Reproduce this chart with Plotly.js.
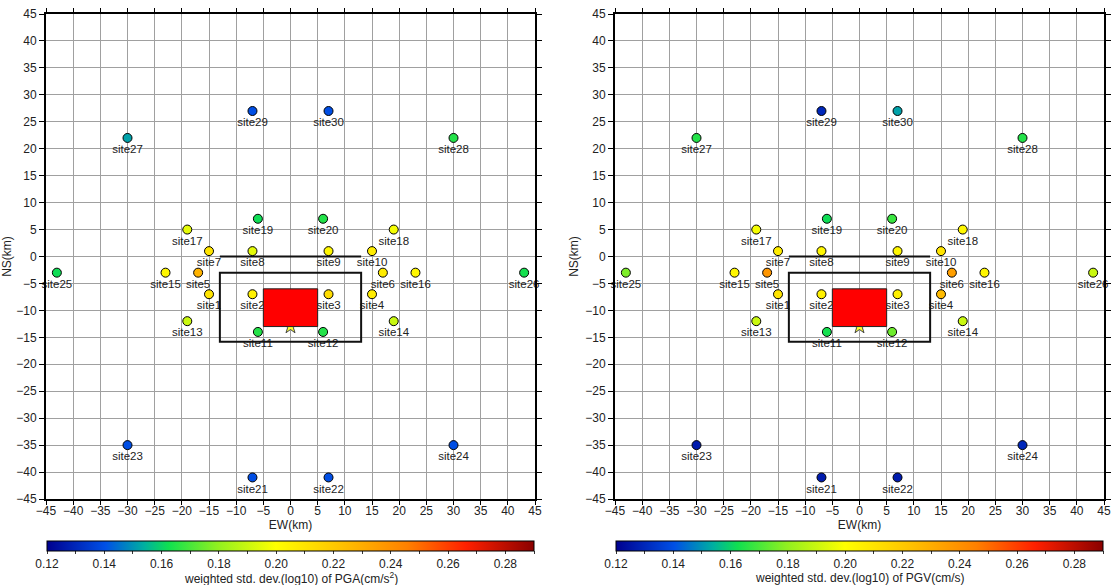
<!DOCTYPE html>
<html>
<head>
<meta charset="utf-8">
<script src="https://cdn.plot.ly/plotly-3.0.1.min.js"></script>
<style>
html,body{margin:0;padding:0;background:#fff;}
#chart{width:1115px;height:585px;}
</style>
</head>
<body>
<div id="chart"></div>
<script>
// ---------------- data ----------------
const siteNames = ["site1","site2","site3","site4","site5","site6","site7","site8","site9","site10",
  "site11","site12","site13","site14","site15","site16","site17","site18","site19","site20",
  "site21","site22","site23","site24","site25","site26","site27","site28","site29","site30"];
const siteX = [-15,-7,7,15,-17,17,-15,-7,7,15, -6,6,-19,19,-23,23,-19,19,-6,6, -7,7,-30,30,-43,43,-30,30,-7,7];
const siteY = [-7,-7,-7,-7,-3,-3,1,1,1,1, -14,-14,-12,-12,-3,-3,5,5,7,7, -41,-41,-35,-35,-3,-3,22,22,27,27];
const pgaStd = [0.210,0.205,0.213,0.207,0.228,0.207,0.210,0.195,0.203,0.207,
  0.165,0.165,0.190,0.190,0.203,0.203,0.195,0.198,0.162,0.165,
  0.140,0.140,0.140,0.140,0.162,0.163,0.152,0.165,0.140,0.140];
const pgvStd = [0.210,0.205,0.205,0.225,0.238,0.235,0.207,0.203,0.203,0.210,
  0.163,0.175,0.190,0.190,0.203,0.203,0.198,0.203,0.162,0.168,
  0.127,0.127,0.127,0.130,0.177,0.190,0.165,0.165,0.130,0.152];
const epicX = [0], epicY = [-13];
const faultX = [-5, 5], faultY = [-13, -6];        // red fault plane
const boxX = [-13, 13], boxY = [-15.8, -3];         // black frame
const topLineX = [-13, 13], topLineY = [0, 0];      // fault top trace
const cbTickVals = [0.12,0.13,0.14,0.15,0.16,0.17,0.18,0.19,0.20,0.21,0.22,0.23,0.24,0.25,0.26,0.27,0.28,0.29];
const cbTickText = ["0.12","","0.14","","0.16","","0.18","","0.20","","0.22","","0.24","","0.26","","0.28",""];
const cbRange = [0.12, 0.29];
const cbTitles = ["weighted std. dev.(log10) of PGA(cm/s<sup>2</sup>)", "weighted std. dev.(log10) of PGV(cm/s)"];

// ---------------- style ----------------
const FONT = "Liberation Sans, Arial, Helvetica, sans-serif";
const cscale = [
  [0.00, "#00008f"],
  [0.12, "#0050e6"],
  [0.20, "#00b0a0"],
  [0.25, "#10e050"],
  [0.35, "#90f020"],
  [0.47, "#ffff00"],
  [0.60, "#ffc400"],
  [0.74, "#ff8000"],
  [0.86, "#ff2000"],
  [1.00, "#8a0000"]
];

function sites(vals, xa, ya, ca) {
  return {
    type: "scatter", mode: "markers+text", x: siteX, y: siteY, text: siteNames,
    textposition: "bottom center", textfont: {family: FONT, size: 11.5, color: "#222"},
    xaxis: xa, yaxis: ya, cliponaxis: false, hoverinfo: "text",
    marker: {size: 9, color: vals, coloraxis: ca, line: {color: "#000", width: 1}}
  };
}
function star(xa, ya) {
  return {type: "scatter", mode: "markers", x: epicX, y: epicY, xaxis: xa, yaxis: ya,
    marker: {symbol: "star", size: 11, color: "#ffff30", line: {color: "#444", width: 1}}, hoverinfo: "skip"};
}
function faultShapes(xr, yr) {
  return [
    {type: "rect", xref: xr, yref: yr, x0: faultX[0], x1: faultX[1], y0: faultY[0], y1: faultY[1],
     fillcolor: "#ff0000", line: {color: "#222", width: 1}, layer: "above"},
    {type: "rect", xref: xr, yref: yr, x0: boxX[0], x1: boxX[1], y0: boxY[0], y1: boxY[1],
     fillcolor: "rgba(0,0,0,0)", line: {color: "#111", width: 2}, layer: "above"},
    {type: "line", xref: xr, yref: yr, x0: topLineX[0], x1: topLineX[1], y0: topLineY[0], y1: topLineY[1],
     line: {color: "#111", width: 2}, layer: "above"}
  ];
}
function axis(domain, anchor, title, isX) {
  const a = {
    domain: domain, anchor: anchor, range: [-45, 45], dtick: 5, tick0: 0,
    showline: true, linecolor: "#000", linewidth: 2, mirror: "ticks",
    ticks: "outside", ticklen: isX ? 4 : 5, tickwidth: 1, tickcolor: "#000",
    showgrid: true, gridcolor: "#a0a0a0", gridwidth: 1, zeroline: false,
    tickfont: {family: FONT, size: 12, color: "#222"},
    title: {text: title, font: {family: FONT, size: 12, color: "#222"}, standoff: isX ? 0 : 4},
    automargin: false, fixedrange: true
  };
  if (isX) a.ticklabelstandoff = -4;
  return a;
}

const traces = [
  sites(pgaStd, "x", "y", "coloraxis"), star("x", "y"),
  sites(pgvStd, "x2", "y2", "coloraxis2"), star("x2", "y2")
];

function cax(xc) {
  return {
    cmin: cbRange[0], cmax: cbRange[1], colorscale: cscale,
    colorbar: {
      orientation: "h", x: xc, xanchor: "center", y: 1 - 541/585, yanchor: "top",
      len: 487, lenmode: "pixels", thickness: 10, thicknessmode: "pixels",
      outlinecolor: "#000", outlinewidth: 1,
      tickmode: "array", tickvals: cbTickVals, ticktext: cbTickText,
      ticks: "outside", ticklen: 3, tickcolor: "#333",
      tickfont: {family: FONT, size: 12, color: "#222"},
      xpad: 0, ypad: 0
    }
  };
}
const cbCenters = [290.5/1115, 859.5/1115];

const layout = {
  width: 1115, height: 585, paper_bgcolor: "#fff", plot_bgcolor: "#fff",
  margin: {l: 0, r: 0, t: 0, b: 0, autoexpand: false}, showlegend: false,
  font: {family: FONT},
  xaxis: axis([46/1115, 535/1115], "y", "EW(km)", true),
  yaxis: axis([1-499/585, 1-14/585], "x", "NS(km)", false),
  xaxis2: axis([615/1115, 1104/1115], "y2", "EW(km)", true),
  yaxis2: axis([1-499/585, 1-14/585], "x2", "NS(km)", false),
  coloraxis: cax(cbCenters[0]),
  coloraxis2: cax(cbCenters[1]),
  shapes: faultShapes("x", "y").concat(faultShapes("x2", "y2")),
  annotations: cbTitles.map((t, i) => ({
    text: t, xref: "paper", yref: "paper", x: cbCenters[i], y: 1 - 578/585,
    xanchor: "center", yanchor: "middle", showarrow: false,
    font: {family: FONT, size: 12, color: "#222"}
  }))
};

Plotly.newPlot("chart", traces, layout, {displayModeBar: false, staticPlot: true});
</script>
</body>
</html>
